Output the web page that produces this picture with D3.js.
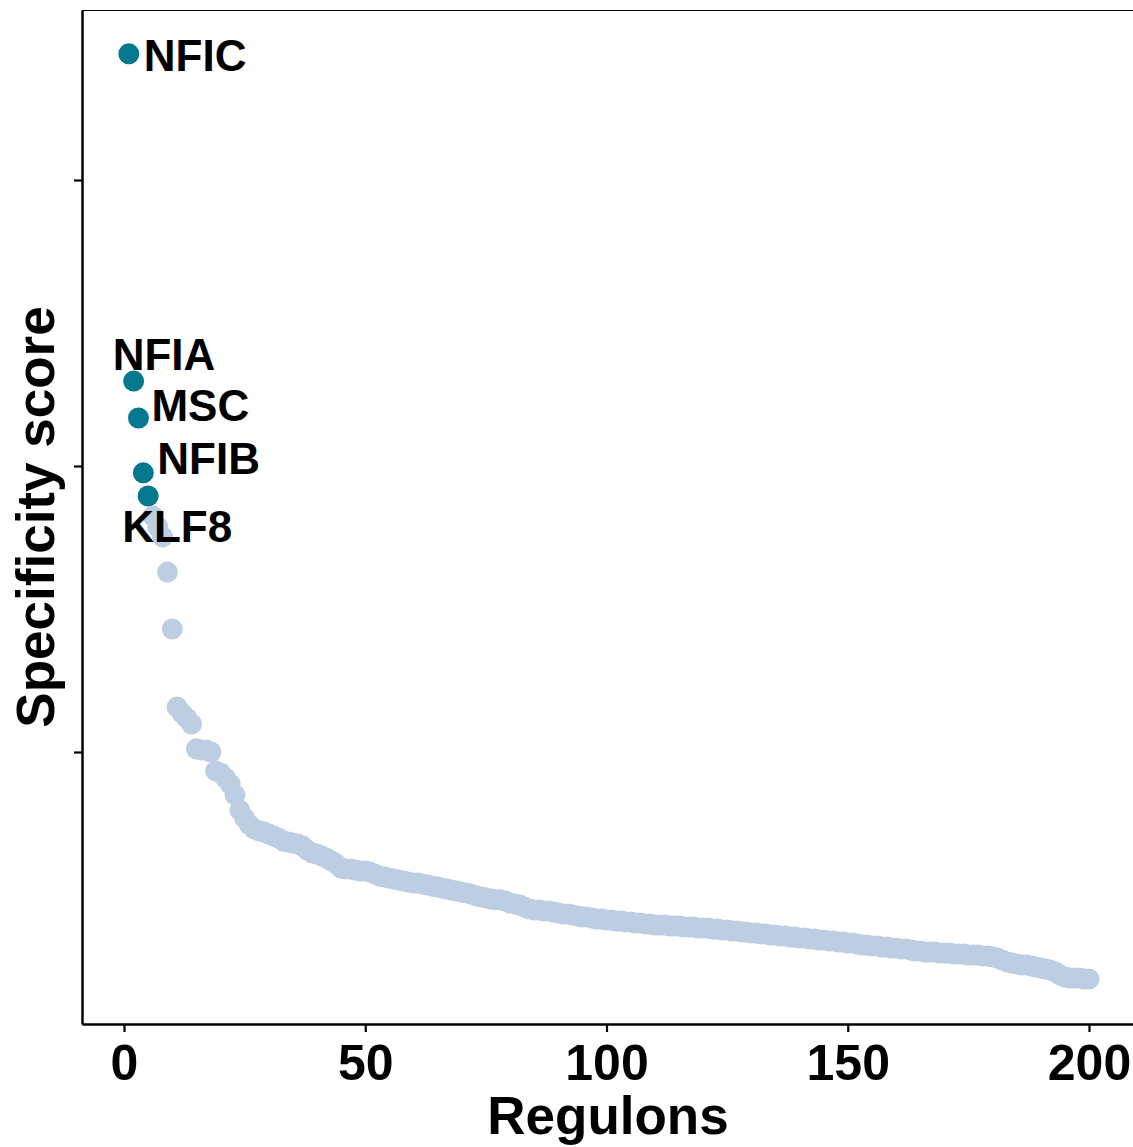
<!DOCTYPE html>
<html>
<head>
<meta charset="utf-8">
<script src="https://cdn.jsdelivr.net/npm/d3@7"></script>
<style>
  html, body { margin: 0; padding: 0; background: #fff; }
  svg { display: block; }
  text { font-family: Arial, "Liberation Sans", sans-serif; font-weight: bold; }
</style>
</head>
<body>
<svg id="chart" width="1133" height="1147"></svg>
<script>
// ---- data ----
const topRegulons = ["NFIC", "NFIA", "MSC", "NFIB", "KLF8"];
const scores = [
  0.5441, 0.4297, 0.4168, 0.3976, 0.3895, 0.3825, 0.3787, 0.3752, 0.3629, 0.3430,
  0.3157, 0.3136, 0.3119, 0.3098, 0.3011, 0.3007, 0.3007, 0.3000, 0.2934, 0.2927,
  0.2909, 0.2888, 0.2850, 0.2797, 0.2769, 0.2745, 0.2731, 0.2724, 0.2720, 0.2713,
  0.2706, 0.2699, 0.2689, 0.2685, 0.2682, 0.2678, 0.2671, 0.2657, 0.2647, 0.2643,
  0.2636, 0.2629, 0.2619, 0.2608, 0.2594, 0.2591, 0.2591, 0.2587, 0.2584, 0.2584,
  0.2580, 0.2573, 0.2566, 0.2563, 0.2559, 0.2556, 0.2552, 0.2549, 0.2545, 0.2542,
  0.2542, 0.2538, 0.2535, 0.2531, 0.2528, 0.2524, 0.2521, 0.2517, 0.2514, 0.2510,
  0.2507, 0.2503, 0.2497, 0.2493, 0.2490, 0.2486, 0.2483, 0.2483, 0.2479, 0.2472,
  0.2469, 0.2465, 0.2458, 0.2451, 0.2448, 0.2448, 0.2444, 0.2444, 0.2441, 0.2437,
  0.2434, 0.2434, 0.2430, 0.2427, 0.2423, 0.2423, 0.2420, 0.2416, 0.2416, 0.2413,
  0.2413, 0.2409, 0.2409, 0.2406, 0.2406, 0.2402, 0.2402, 0.2399, 0.2399, 0.2395,
  0.2395, 0.2395, 0.2392, 0.2392, 0.2392, 0.2388, 0.2388, 0.2388, 0.2385, 0.2385,
  0.2385, 0.2381, 0.2381, 0.2378, 0.2378, 0.2374, 0.2374, 0.2371, 0.2371, 0.2367,
  0.2367, 0.2364, 0.2364, 0.2360, 0.2360, 0.2357, 0.2357, 0.2353, 0.2353, 0.2350,
  0.2350, 0.2346, 0.2346, 0.2343, 0.2343, 0.2339, 0.2339, 0.2336, 0.2336, 0.2332,
  0.2332, 0.2329, 0.2325, 0.2325, 0.2322, 0.2322, 0.2318, 0.2318, 0.2315, 0.2315,
  0.2311, 0.2311, 0.2308, 0.2304, 0.2304, 0.2301, 0.2301, 0.2301, 0.2297, 0.2297,
  0.2297, 0.2294, 0.2294, 0.2294, 0.2290, 0.2290, 0.2290, 0.2287, 0.2287, 0.2283,
  0.2280, 0.2273, 0.2266, 0.2262, 0.2259, 0.2255, 0.2255, 0.2252, 0.2248, 0.2245,
  0.2241, 0.2238, 0.2231, 0.2220, 0.2213, 0.2210, 0.2210, 0.2210, 0.2206, 0.2206
];
const xTicks = [0, 50, 100, 150, 200];
const yTicks = [0.3, 0.4, 0.5];
const xTitle = "Regulons";
const yTitle = "Specificity score";

// ---- layout / style ----
const labelOffsets = [[15, 17], [-21, -11], [13, 3], [14, 1], [-26, 46]];
const colTop = "#04788F";
const colRest = "#BDCEE3";

const svg = d3.select("#chart");
const mLeft = 82, mTop = 10, mBottom = 1024, mRight = 1133;

const x = d3.scaleLinear().domain([-8.705, 209.12]).range([mLeft, mRight]);
const y = d3.scaleLinear().domain([0.20490, 0.55944]).range([mBottom, mTop]);

const pts = scores.map((v, i) => ({ rank: i + 1, v, isTop: i < topRegulons.length }));

// points
svg.append("g").selectAll("circle").data(pts).join("circle")
  .attr("cx", d => x(d.rank))
  .attr("cy", d => y(d.v))
  .attr("r", 10.5)
  .attr("fill", d => d.isTop ? colTop : colRest);

// labels
svg.append("g").selectAll("text").data(topRegulons).join("text")
  .attr("x", (d, i) => x(pts[i].rank) + labelOffsets[i][0])
  .attr("y", (d, i) => y(pts[i].v) + labelOffsets[i][1])
  .attr("font-size", 44)
  .attr("fill", "#000")
  .text(d => d);

// top border
svg.append("line")
  .attr("x1", mLeft).attr("x2", mRight)
  .attr("y1", mTop + 0.5).attr("y2", mTop + 0.5)
  .attr("stroke", "#000").attr("stroke-width", 1.2);

// x axis
const gx = svg.append("g").attr("transform", `translate(0,${mBottom})`)
  .call(d3.axisBottom(x).tickValues(xTicks).tickSizeInner(8).tickSizeOuter(0).tickPadding(12).tickFormat(d3.format("d")));
gx.select(".domain").attr("stroke-width", 2.5);
gx.selectAll(".tick line").attr("stroke-width", 2.2);
gx.selectAll(".tick text").attr("font-size", 50).attr("fill", "#000")
  .attr("font-family", "Arial, 'Liberation Sans', sans-serif").attr("font-weight", "bold");

// y axis
const gy = svg.append("g").attr("transform", `translate(${mLeft},0)`)
  .call(d3.axisLeft(y).tickValues(yTicks).tickSizeInner(8).tickSizeOuter(0).tickFormat(""));
gy.select(".domain").attr("stroke-width", 2.5);
gy.selectAll(".tick line").attr("stroke-width", 2.2);

// titles
svg.append("text")
  .attr("x", 608).attr("y", 1134)
  .attr("text-anchor", "middle").attr("font-size", 53).attr("fill", "#000")
  .text(xTitle);

svg.append("text")
  .attr("transform", `translate(54,${517}) rotate(-90)`)
  .attr("text-anchor", "middle").attr("font-size", 53).attr("fill", "#000")
  .text(yTitle);
</script>
</body>
</html>
